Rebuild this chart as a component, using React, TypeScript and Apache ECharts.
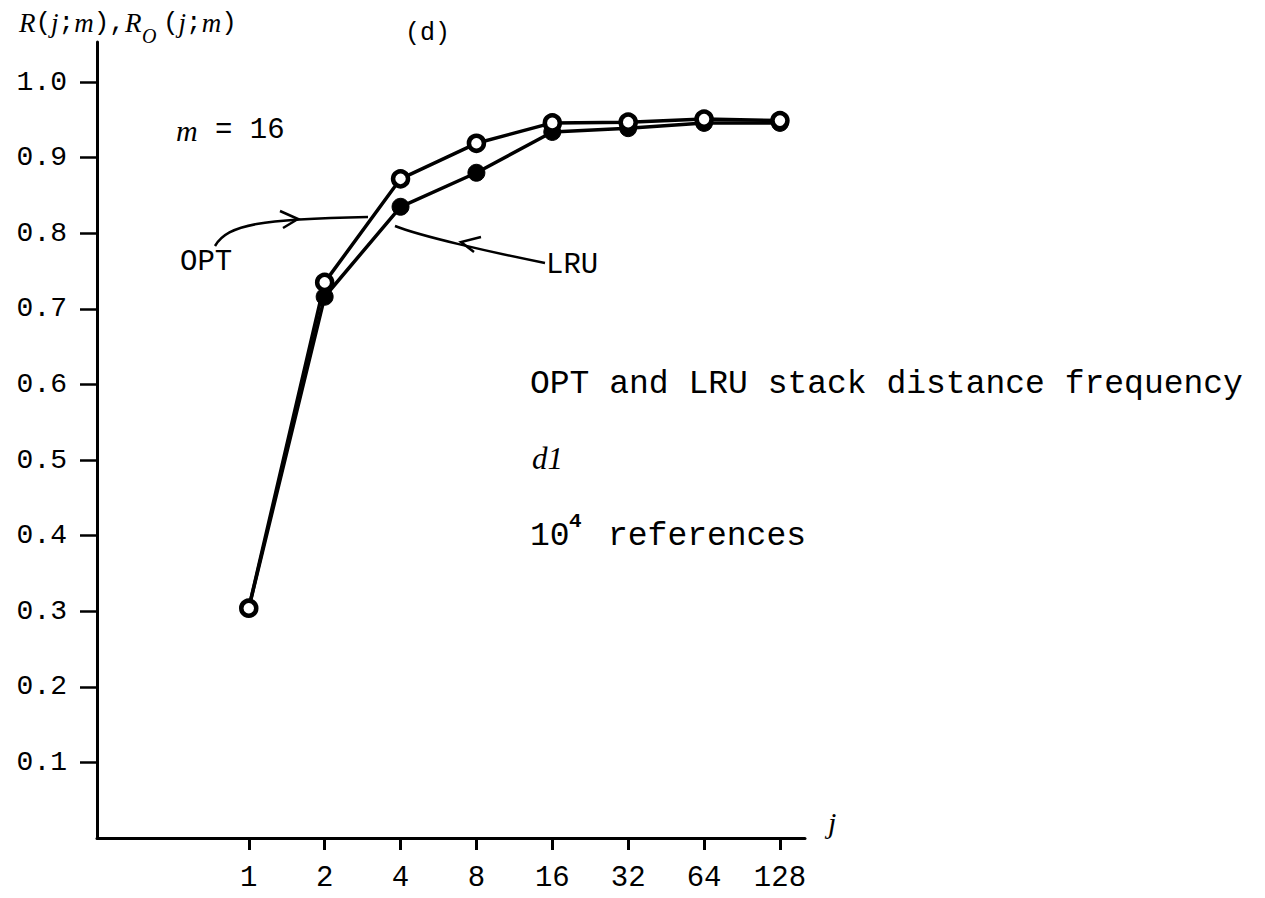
import React, { useEffect, useRef } from "react";
import * as echarts from "echarts";

const jValues = [1, 2, 4, 8, 16, 32, 64, 128];
const optValues = [0.304, 0.735, 0.872, 0.919, 0.946, 0.947, 0.951, 0.949];
const lruValues = [0.304, 0.716, 0.835, 0.88, 0.934, 0.939, 0.946, 0.946];
const yTickValues = [0.1, 0.2, 0.3, 0.4, 0.5, 0.6, 0.7, 0.8, 0.9, 1.0];
const xTickIndex = [0, 1, 2, 3, 4, 5, 6, 7];

const MONO = "'Liberation Mono', 'DejaVu Sans Mono', monospace";
const SERIF = "'Liberation Serif', 'DejaVu Serif', serif";

export default function App() {
  const ref = useRef<HTMLDivElement>(null);
  useEffect(() => {
    if (!ref.current) return;
    const chart = echarts.init(ref.current, null, { renderer: "svg" });
    const optData = jValues.map((j, i) => [Math.log2(j), optValues[i]]);
    const lruData = jValues.map((j, i) => [Math.log2(j), lruValues[i]]);
    const rich = {
      i: { fontFamily: SERIF, fontStyle: "italic", fontSize: 27, fill: "#000" },
      m: { fontFamily: MONO, fontSize: 26, fill: "#000" },
    };
    chart.setOption({
      animation: false,
      backgroundColor: "#fff",
      grid: { left: 97, top: 42, width: 708, height: 796, containLabel: false },
      xAxis: {
        type: "value",
        min: -2,
        max: 7.33,
        splitLine: { show: false },
        axisLine: { show: true, onZero: false, lineStyle: { color: "#000", width: 3 } },
        axisTick: {
          show: true,
          customValues: xTickIndex,
          length: 12,
          lineStyle: { color: "#000", width: 3 },
        },
        axisLabel: {
          customValues: xTickIndex,
          formatter: (v: number) => String(jValues[Math.round(v)]),
          margin: 26,
          fontFamily: MONO,
          fontSize: 29,
          color: "#000",
        },
      },
      yAxis: {
        type: "value",
        min: 0,
        max: 1.053,
        splitLine: { show: false },
        axisLine: { show: true, onZero: false, lineStyle: { color: "#000", width: 3 } },
        axisTick: {
          show: true,
          customValues: yTickValues,
          length: 17,
          lineStyle: { color: "#000", width: 2.5 },
        },
        axisLabel: {
          customValues: yTickValues,
          formatter: (v: number) => v.toFixed(1),
          margin: 30,
          fontFamily: MONO,
          fontSize: 28,
          color: "#000",
        },
      },
      series: [
        {
          name: "LRU",
          type: "line",
          data: lruData,
          symbol: "circle",
          symbolSize: 17,
          lineStyle: { color: "#000", width: 3.5 },
          itemStyle: { color: "#000", borderColor: "#000", borderWidth: 1 },
          z: 2,
        },
        {
          name: "OPT",
          type: "line",
          data: optData,
          symbol: "circle",
          symbolSize: 15,
          lineStyle: { color: "#000", width: 3.5 },
          itemStyle: { color: "#fff", borderColor: "#000", borderWidth: 4.5 },
          z: 3,
        },
      ],
      graphic: [
        {
          type: "text",
          x: 19,
          y: 9,
          style: { text: "{i|R}{m|(}{i|j}{m|;}{i|m}{m|),}{i|R}", rich },
        },
        {
          type: "text",
          x: 142,
          y: 26,
          style: { text: "O", fontFamily: SERIF, fontStyle: "italic", fontSize: 20, fill: "#000" },
        },
        {
          type: "text",
          x: 163,
          y: 9,
          style: { text: "{m|(}{i|j}{m|;}{i|m}{m|)}", rich },
        },
        {
          type: "text",
          x: 405,
          y: 21,
          style: { text: "(d)", fontFamily: MONO, fontSize: 25, fill: "#000" },
        },
        {
          type: "text",
          x: 176,
          y: 115,
          style: {
            text: "{i|m}{m| = 16}",
            rich: {
              i: { fontFamily: SERIF, fontStyle: "italic", fontSize: 30, fill: "#000" },
              m: { fontFamily: MONO, fontSize: 29, fill: "#000" },
            },
          },
        },
        {
          type: "text",
          x: 180,
          y: 248,
          style: { text: "OPT", fontFamily: MONO, fontSize: 29, fill: "#000" },
        },
        {
          type: "text",
          x: 546,
          y: 251,
          style: { text: "LRU", fontFamily: MONO, fontSize: 29, fill: "#000" },
        },
        {
          type: "bezierCurve",
          shape: { x1: 215, y1: 246, cpx1: 228, cpy1: 224, cpx2: 262, cpy2: 219, x2: 368, y2: 217 },
          style: { stroke: "#000", lineWidth: 2.5, fill: null },
        },
        {
          type: "polyline",
          shape: { points: [[280, 211], [298, 219], [283, 228]] },
          style: { stroke: "#000", lineWidth: 2.5, fill: null },
        },
        {
          type: "bezierCurve",
          shape: { x1: 395, y1: 226, cpx1: 420, cpy1: 236, cpx2: 490, cpy2: 252, x2: 545, y2: 263 },
          style: { stroke: "#000", lineWidth: 2.5, fill: null },
        },
        {
          type: "polyline",
          shape: { points: [[481, 237], [461, 242], [474, 252]] },
          style: { stroke: "#000", lineWidth: 2.5, fill: null },
        },
        {
          type: "text",
          x: 530,
          y: 368,
          style: { text: "OPT and LRU stack distance frequency", fontFamily: MONO, fontSize: 33, fill: "#000" },
        },
        {
          type: "text",
          x: 532,
          y: 443,
          style: { text: "d1", fontFamily: SERIF, fontStyle: "italic", fontSize: 31, fill: "#000" },
        },
        {
          type: "text",
          x: 530,
          y: 520,
          style: { text: "10", fontFamily: MONO, fontSize: 33, fill: "#000" },
        },
        {
          type: "text",
          x: 569,
          y: 511,
          style: { text: "4", fontFamily: MONO, fontSize: 21, fontWeight: "bold", fill: "#000" },
        },
        {
          type: "text",
          x: 608,
          y: 520,
          style: { text: "references", fontFamily: MONO, fontSize: 33, fill: "#000" },
        },
        {
          type: "text",
          x: 828,
          y: 807,
          style: { text: "j", fontFamily: SERIF, fontStyle: "italic", fontSize: 30, fill: "#000" },
        },
      ],
    });
    return () => chart.dispose();
  }, []);
  return (
    <div
      ref={ref}
      style={{ position: "fixed", left: 0, top: 0, width: 1265, height: 898, background: "#fff" }}
    />
  );
}
